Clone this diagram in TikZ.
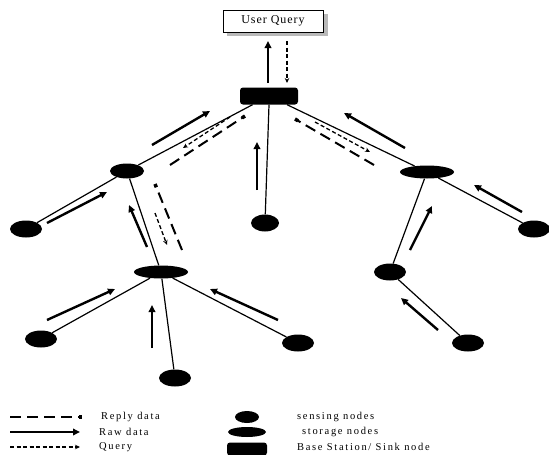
\documentclass[tikz,border=0pt]{standalone}
\usepackage{fontspec}
\setmainfont{Liberation Serif}
\usetikzlibrary{shapes.geometric,arrows.meta}
\begin{document}
\begin{tikzpicture}[x=1pt,y=-1pt,
  sens/.style={ellipse,fill=black,inner sep=0,minimum width=32pt,minimum height=17pt},
  stor/.style={ellipse,fill=black,inner sep=0,minimum width=54pt,minimum height=13pt},
  bs/.style={rectangle,rounded corners=3pt,fill=black,inner sep=0,minimum width=58pt,minimum height=17pt},
  link/.style={line width=1.2pt},
  raw/.style={line width=2.4pt,-{Triangle[length=7pt,width=6.5pt]}},
  reply/.style={line width=2pt,dash pattern=on 11pt off 6pt,-{Square[length=3.5pt,width=3.5pt]}},
  query/.style={line width=1.3pt,dash pattern=on 4pt off 2.5pt,-{Stealth[length=5pt,width=4.5pt]}},
  lbl/.style={font=\fontsize{10.5}{12}\selectfont\addfontfeature{LetterSpace=16},anchor=west,inner sep=0}]
\useasboundingbox (0,0) rectangle (549,455);
% user query box
\fill[gray!55] (227,14) rectangle (328,36);
\node[draw=black,fill=white,line width=1pt,minimum width=100pt,minimum height=22pt,inner sep=0,
  font=\fontsize{12}{14}\selectfont\addfontfeature{LetterSpace=8}] (uq) at (273,21) {User Query};
% nodes
\node[bs] (base) at (269,96) {};
\node[sens,minimum width=34pt,minimum height=15pt] (L1) at (127,171) {};
\node[stor] (R1) at (427,172) {};
\node[sens,minimum width=28pt] (M) at (265,223) {};
\node[sens] (FL) at (26,229) {};
\node[stor] (L2) at (161,272) {};
\node[sens] (FR) at (534,229) {};
\node[sens] (R2) at (390,272) {};
\node[sens] (R3) at (468,343) {};
\node[sens] (A) at (41,339) {};
\node[sens] (B) at (298,343) {};
\node[sens] (C) at (175,378) {};
% links
\draw[link] (base) -- (L1);
\draw[link] (base) -- (R1);
\draw[link] (base.south) -- (M);
\draw[link] (L1) -- (FL);
\draw[link] (L1) -- (L2);
\draw[link] (R1) -- (FR);
\draw[link] (R1) -- (R2);
\draw[link] (R2) -- (R3);
\draw[link] (L2) -- (A);
\draw[link] (L2) -- (B);
\draw[link] (L2) -- (C);
% base <-> user query
\draw[raw,line width=2pt] (268,83) -- (268,41);
\draw[query] (287,41) -- (287,83);
% left upper
\draw[raw] (152,145) -- (210,111);
\draw[reply] (170,165) -- (245,116);
\draw[query] (230,117) -- (183,148);
% middle vertical
\draw[raw] (257,190) -- (257,142);
% far left
\draw[raw] (47,223) -- (107,192);
% L1 - L2
\draw[raw] (147,247) -- (129,205);
\draw[reply] (182,250) -- (155,184);
\draw[query] (155,213) -- (167,245);
% L2 incoming
\draw[raw] (47,320) -- (115,289);
\draw[raw] (152,348) -- (152,305);
\draw[raw] (278,320) -- (210,289);
% right upper
\draw[raw] (405,148) -- (344,113);
\draw[query] (315,122) -- (370,152);
\draw[reply] (374,165) -- (295,119);
% right others
\draw[raw] (522,212) -- (474,185);
\draw[raw] (410,250) -- (432,206);
\draw[raw] (438,330) -- (401,298);
% legend
\draw[reply] (10,417) -- (82,417);
\draw[raw] (10,432) -- (80,432);
\draw[query] (10,447) -- (80,447);
\node[lbl] (t1) at (101,417) {Reply data};
\node[lbl] (t2) at (99,432) {Raw data};
\node[lbl] (t3) at (99,447) {Query};
\node[sens,minimum width=24pt,minimum height=12pt] (ls) at (247,417) {};
\node[stor,minimum width=38pt,minimum height=10pt] (lst) at (247,432) {};
\node[bs,minimum width=40pt,minimum height=13pt] (lb) at (247,449) {};
\node[lbl] (t4) at (297,417) {sensing nodes};
\node[lbl] (t5) at (302,432) {storage nodes};
\node[lbl] (t6) at (297,447) {Base Station/ Sink node};
\end{tikzpicture}
\end{document}
